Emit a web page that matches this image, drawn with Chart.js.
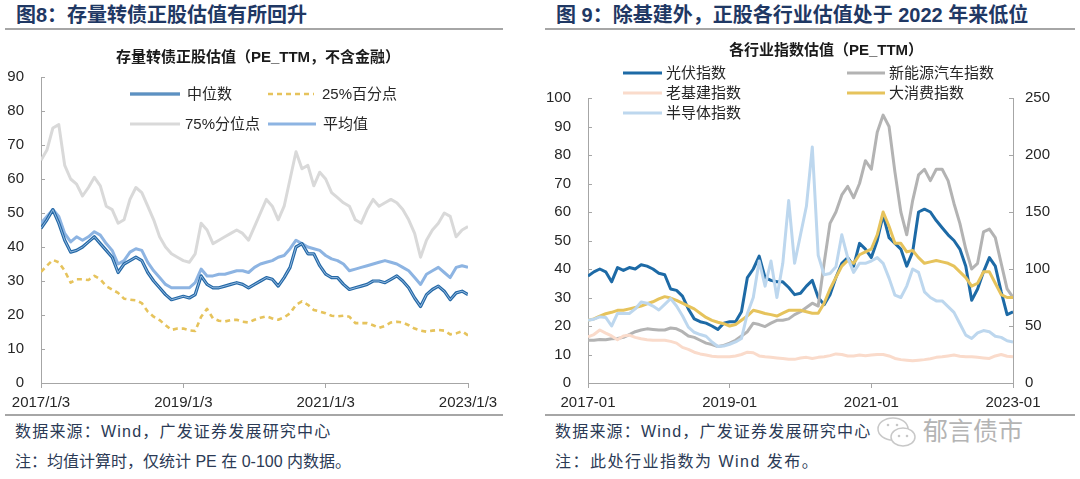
<!DOCTYPE html>
<html>
<head>
<meta charset="utf-8">
<script src="https://cdn.jsdelivr.net/npm/chart.js@4.4.0/dist/chart.umd.min.js"></script>
<style>
  body { margin: 0; width: 1080px; height: 479px; background: #fff; position: relative; overflow: hidden;
         font-family: "Liberation Sans", "Noto Sans CJK SC", sans-serif; }
  .hd { position: absolute; top: 4px; font-size: 20px; line-height: 22px; font-weight: bold; color: #1f3864; white-space: nowrap; }
  .rule { position: absolute; height: 2px; background: #a6a6a6; }
  .ft { position: absolute; font-size: 16px; line-height: 18px; color: #2b3a55; white-space: nowrap; }
  canvas { position: absolute; top: 0; }
  .wm { position: absolute; left: 923px; top: 416px; font-size: 25px; line-height: 30px; color: #b4b4b4; white-space: nowrap; }
</style>
</head>
<body>
<div class="hd" style="left:16px">图8：存量转债正股估值有所回升</div>
<div class="hd" style="left:556px">图 9：除基建外，正股各行业估值处于 2022 年来低位</div>
<div class="rule" style="left:5px;top:28px;width:498px"></div>
<div class="rule" style="left:545px;top:28px;width:530px"></div>

<canvas id="left" width="520" height="415" style="left:0"></canvas>
<canvas id="right" width="540" height="415" style="left:540px"></canvas>

<div class="rule" style="left:5px;top:414px;width:498px"></div>
<div class="rule" style="left:545px;top:414px;width:530px"></div>
<div class="ft" style="left:15px;top:423px;letter-spacing:1.2px">数据来源：Wind，广发证券发展研究中心</div>
<div class="ft" style="left:15px;top:453px">注：均值计算时，仅统计 PE 在 0-100 内数据。</div>
<div class="ft" style="left:555px;top:423px;letter-spacing:1.2px">数据来源：Wind，广发证券发展研究中心</div>
<div class="ft" style="left:555px;top:453px;letter-spacing:1.5px">注：此处行业指数为 Wind 发布。</div>
<svg style="position:absolute;left:875px;top:416px" width="46" height="34">
  <ellipse cx="18" cy="13" rx="15" ry="11" fill="#fff" stroke="#c8c8c8" stroke-width="1.5"/>
  <ellipse cx="28" cy="21" rx="12" ry="9" fill="#fff" stroke="#c8c8c8" stroke-width="1.5"/>
  <circle cx="24" cy="20" r="1.3" fill="#c8c8c8"/><circle cx="32" cy="20" r="1.3" fill="#c8c8c8"/>
  <circle cx="13" cy="9" r="1.3" fill="#c8c8c8"/><circle cx="22" cy="9" r="1.3" fill="#c8c8c8"/>
</svg>
<div class="wm">郁言债市</div>

<script>
// monthly readings, Jan 2017 .. Jan 2023 (73 points)
const leftTicks = ['2017/1/3', '2019/1/3', '2021/1/3', '2023/1/3'];
const rightTicks = ['2017-01', '2019-01', '2021-01', '2023-01'];

const medianPE = [45.5,48,51,47,42,38.5,39,40,41.5,43, 41,39,37,32.5,35,36,37,36,32.5,30,
  28,26,24.5,25,25.5,25,26,31.5,29,28, 28,28.5,29,29.5,29,28,29,30,31,30.5,
  28.5,31,34,40,41,38,38,34.5,32,31, 31,29,27.5,28,28.5,29,30,30,29.5,30.5,
  31.5,30,28,25,22.5,26,27.5,28.5,27,24.5, 26.5,27,26];
const p25PE = [32.7,34.5,36.2,35.5,33,29.5,30.5,30.5,30.3,31.5, 30.5,28.5,27.5,26.5,24.8,24.5,24.3,23.5,21,19.5,
  18.5,17,15.6,16,16,15.5,15.3,19.5,21.8,19, 18.3,18.1,18.5,18.6,18,17.8,18.6,19.2,19.6,19,
  18.6,19.3,20.5,23,24,23,21.5,21,20.5,19.8, 19.6,19.8,19.5,17.6,17.6,17.6,17,16.2,16.8,17.8,
  18,17.8,17,16,15.4,15.1,15.4,15.6,15.4,14.3, 14.6,15.2,14];
const p75PE = [65.5,68.5,75,76,64,60,58.5,55,57.5,60.5, 58,52,51,47,48,54,57.5,56,52,48,
  43,40,38,37,36,35.5,38,47,45,41, 42,43,44,45,44,42,46,50,54,52,
  48,52,60,68,63,64,58,62,60,56, 54.5,53,52,48,47,51,54,52,53,54,
  53,51,48,44,37,42,45,47,50,49, 43,45,46];
const meanPE = [47,49,51,49,44,41.5,43,42,43,44.5, 43.5,41,39,35,36,38.5,39.5,39,35.5,33,
  31,29,28,28,28,28,29.5,33.5,31.5,31.5, 32,32,32.5,33,33,32.5,34,35,35.5,36,
  37,37.5,39.5,42,41,40,39.5,39,37.5,36.5, 36,35,33,33.5,34,34.5,35,35.5,36,35.5,
  35,34,33,31,29,32,33,34,32.5,31, 34,34.5,34];

const solarPE = [37.5,39,40,39,35.5,40.5,39.5,40.5,40,41.5, 41,40,38.5,38,33,32.5,30.5,26,22.5,21.5,
  21,20,18.8,21,21.5,21.5,25,37,40,44.5, 37,36,35.5,35.5,33.5,31,31.5,34,36,30,
  27.5,31,37,42,44,41,49,47,44,50, 59,51,49,47,41,46,60,61,60,57,
  54.5,52,50,47,41,29,33,39,44,41, 32,24,25];
const nevPE = [15,15,15.3,15.2,15.5,15.6,16,17,18,18.6, 19,18.8,18.6,18.6,19.3,19,18,16.5,16,15,
  14,13.5,12.8,13.2,14,15,16.5,18,21,20.5, 19.8,21,22,22,22.5,24,25,26.5,28,27,
  42,56,60,66,69,65,70,78,75,88, 94,90,74,60,52,64,73,75,71,75,
  75,71,63,56,47,40,42,53,54,51, 42,33,30];
const infraPE = [16.2,17,18.6,17.5,16.5,15.2,16.5,16.8,16,15.5, 15.2,15,15,15,14.6,14,12.5,11.8,10.8,10.2,
  9.8,9.4,9.2,9.2,9.2,9.5,10,10.8,10.6,9.5, 9.2,9,8.8,8.6,8.3,8.3,8.8,9,8.6,9,
  9.2,9.6,10.2,10,9.5,9.5,9.8,9.6,9.8,10, 10,9.5,8.6,8.2,8,7.8,8,8.2,8.5,9,
  9.2,9.5,9.8,9.4,9.2,9.2,9,8.8,8.6,9.5, 10,9.4,9.2];
const consumerPE = [22,22.5,23.5,24.3,24.8,25.5,25.5,26,26.5,27, 27.8,28.5,29.5,30.3,29.8,29,28,27,26,24.5,
  23,22,21.3,20.8,20,20.5,22,23.5,25.5,25, 24.4,24,23.5,24.5,25.5,25.5,25.5,25,24.5,24.5,
  28,33,37,41,43,42,45,46,47,52, 60,55,49,49,46,46.5,44,42,42.5,43,
  42.5,42,41,39,37,34,35,39,39,35, 31,30,30];
// semiconductor is read against the right-hand axis (0-250)
const semiPE = [55,56,58,57.5,50,61,61,61,65,71, 70,67.5,64,69,74,67.5,59,49,44.5,42.5,
  41,36,32,32.5,34,36,39,61,75,107, 85,107,75,105,160,105,130,155,207,112,
  95,96,102,130,110,97,105,105,107,110, 105,92,77,75,85,100,97,80,75,72,
  72,67,62,52,42,39,44,46,45,41, 40,37,36];

const pts = arr => arr.map((v, i) => ({ x: i, y: v }));

Chart.defaults.font.family = '"Liberation Sans", "Noto Sans CJK SC", sans-serif';
Chart.defaults.color = '#262626';

const AXIS = '#a6a6a6';

// title + hand placed legend, drawn on the canvas
const overlay = {
  id: 'overlay',
  afterDraw(chart, args, o) {
    const ctx = chart.ctx;
    ctx.save();
    ctx.font = 'bold 15px "Liberation Sans", "Noto Sans CJK SC"';
    ctx.fillStyle = '#1a1a1a';
    ctx.textAlign = 'center';
    ctx.textBaseline = 'middle';
    ctx.fillText(o.title, o.titleX, o.titleY);
    ctx.font = '15px "Liberation Sans", "Noto Sans CJK SC"';
    ctx.textAlign = 'left';
    o.items.forEach(it => {
      const ds = chart.data.datasets[it.ds];
      ctx.beginPath();
      ctx.strokeStyle = ds.borderColor;
      ctx.lineWidth = ds.borderWidth;
      ctx.setLineDash(ds.borderDash || []);
      ctx.moveTo(it.x0, it.y);
      ctx.lineTo(it.x1, it.y);
      ctx.stroke();
      if (it.inner !== undefined) {
        const d2 = chart.data.datasets[it.inner];
        ctx.beginPath();
        ctx.strokeStyle = d2.borderColor;
        ctx.lineWidth = d2.borderWidth;
        ctx.moveTo(it.x0, it.y);
        ctx.lineTo(it.x1, it.y);
        ctx.stroke();
      }
      ctx.setLineDash([]);
      ctx.fillStyle = '#262626';
      ctx.fillText(it.text, it.tx, it.y + 1);
    });
    ctx.restore();
  }
};

// short tick marks pointing into the plot on the value axes
const innerTicks = {
  id: 'innerTicks',
  afterDraw(chart) {
    const ctx = chart.ctx, ca = chart.chartArea;
    ctx.save();
    ctx.strokeStyle = AXIS;
    ctx.lineWidth = 1;
    Object.values(chart.scales).forEach(s => {
      if (s.axis !== 'y') return;
      const left = s.position === 'left';
      const x0 = left ? ca.left : ca.right;
      s.ticks.forEach(t => {
        const y = Math.round(s.getPixelForValue(t.value)) + 0.5;
        ctx.beginPath();
        ctx.moveTo(x0, y);
        ctx.lineTo(x0 + (left ? 4 : -4), y);
        ctx.stroke();
      });
    });
    ctx.restore();
  }
};

function xAxis(labels) {
  return {
    type: 'linear', min: 0, max: 72,
    afterBuildTicks: s => { s.ticks = [0, 24, 48, 72].map(v => ({ value: v })); },
    afterFit: s => { s.height = 32; },
    ticks: { font: { size: 15 }, padding: 6, maxRotation: 0, color: '#262626',
             callback: v => labels[v / 24] },
    grid: { drawOnChartArea: false, drawTicks: true, tickLength: 5, color: AXIS },
    border: { color: AXIS, width: 1 }
  };
}

function yAxis(pos, max, step, width, pad) {
  return {
    type: 'linear', position: pos, min: 0, max: max,
    afterFit: s => { s.width = width; },
    ticks: { stepSize: step, font: { size: 15 }, padding: pad, color: '#262626' },
    grid: { drawOnChartArea: false, drawTicks: false },
    border: { color: AXIS, width: 1 }
  };
}

const line = (label, data, color, width, order, extra) => Object.assign({
  label, data: pts(data), borderColor: color, backgroundColor: color, borderWidth: width,
  pointRadius: 0, tension: 0, fill: false, order, borderJoinStyle: 'round'
}, extra || {});

new Chart(document.getElementById('left'), {
  type: 'line',
  data: {
    datasets: [
      line('75%分位点', p75PE, '#d9d9d9', 3, 5),
      line('平均值', meanPE, '#8db4e2', 3, 4),
      line('25%百分点', p25PE, '#e6c35c', 2.6, 3, { borderDash: [5, 4] }),
      line('中位数', medianPE, '#2468a6', 3.2, 2),
      line('中位数_inner', medianPE, '#a3c4e6', 0.9, 1)
    ]
  },
  options: {
    responsive: false, animation: false,
    layout: { padding: { top: 77, left: 0, right: 52, bottom: 0 } },
    plugins: {
      legend: { display: false }, tooltip: { enabled: false },
      overlay: {
        title: '存量转债正股估值（PE_TTM，不含金融）', titleX: 258, titleY: 58,
        items: [
          { ds: 3, inner: 4, x0: 130, x1: 180, tx: 187, y: 94, text: '中位数' },
          { ds: 2, x0: 268, x1: 314, tx: 322, y: 94, text: '25%百分点' },
          { ds: 0, x0: 130, x1: 180, tx: 185, y: 124, text: '75%分位点' },
          { ds: 1, x0: 268, x1: 316, tx: 323, y: 124, text: '平均值' }
        ]
      }
    },
    scales: { x: xAxis(leftTicks), y: yAxis('left', 90, 10, 41, 17) }
  },
  plugins: [overlay, innerTicks]
});

new Chart(document.getElementById('right'), {
  type: 'line',
  data: {
    datasets: [
      line('光伏指数', solarPE, '#1d6aa6', 3, 5),
      line('新能源汽车指数', nevPE, '#b3b3b3', 3, 4),
      line('老基建指数', infraPE, '#fadbcb', 3, 3),
      line('大消费指数', consumerPE, '#e6c35c', 3, 2),
      line('半导体指数', semiPE, '#bdd7ee', 3, 1, { yAxisID: 'y2' })
    ]
  },
  options: {
    responsive: false, animation: false,
    layout: { padding: { top: 98, left: 0, right: 0, bottom: 0 } },
    plugins: {
      legend: { display: false }, tooltip: { enabled: false },
      overlay: {
        title: '各行业指数估值（PE_TTM）', titleX: 286, titleY: 51,
        items: [
          { ds: 0, x0: 83, x1: 122, tx: 126, y: 73, text: '光伏指数' },
          { ds: 1, x0: 307, x1: 345, tx: 349, y: 73, text: '新能源汽车指数' },
          { ds: 2, x0: 83, x1: 122, tx: 126, y: 93, text: '老基建指数' },
          { ds: 3, x0: 307, x1: 345, tx: 349, y: 93, text: '大消费指数' },
          { ds: 4, x0: 83, x1: 122, tx: 126, y: 113, text: '半导体指数' }
        ]
      }
    },
    scales: {
      x: xAxis(rightTicks),
      y: yAxis('left', 100, 10, 48, 17),
      y2: yAxis('right', 250, 50, 67, 12)
    }
  },
  plugins: [overlay, innerTicks]
});
</script>
</body>
</html>
